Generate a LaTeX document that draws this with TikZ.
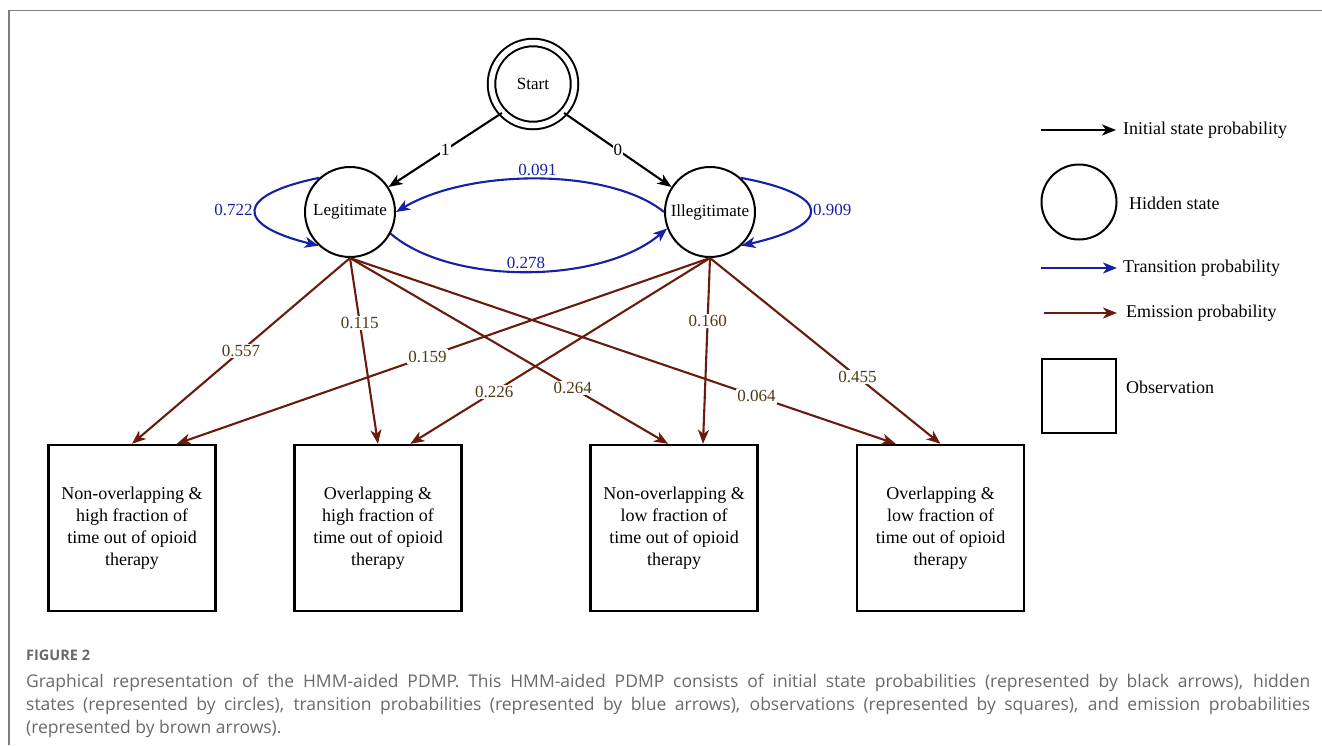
\documentclass[tikz,border=0pt]{standalone}
\usepackage{fontspec}
\setmainfont{Liberation Serif}
\newfontfamily\capfont{Open Sans}
\usetikzlibrary{arrows.meta}

\definecolor{transblue}{RGB}{22,32,165}
\definecolor{emitbrown}{RGB}{105,28,12}
\definecolor{emitlabel}{RGB}{80,58,22}
\definecolor{capgray}{RGB}{105,105,105}
\definecolor{framegray}{RGB}{125,125,125}

\begin{document}
\begin{tikzpicture}[x=1pt,y=-1pt]
\useasboundingbox (0,0) rectangle (1322,745);

\tikzstyle{state} = [circle, draw, line width=2pt, minimum size=90pt, inner sep=1pt, font=\fontsize{17}{20}\selectfont]
\tikzstyle{obsbox} = [rectangle, draw, line width=2.4pt, minimum width=167pt, minimum height=166pt, inner sep=0pt, align=center, font=\fontsize{18}{22}\selectfont]
\tikzstyle{initarrow} = [draw=black, line width=2.1pt, -{Stealth[length=14pt,width=11pt,inset=4pt]}]
\tikzstyle{transarrow} = [draw=transblue, line width=2.1pt, -{Stealth[length=14pt,width=11pt,inset=4pt]}]
\tikzstyle{emitarrow} = [draw=emitbrown, line width=2.1pt, -{Stealth[length=14pt,width=11pt,inset=4pt]}]
\tikzstyle{initlabel} = [fill=white, inner sep=1pt, font=\fontsize{17}{20}\selectfont]
\tikzstyle{translabel} = [text=transblue, inner sep=2pt, font=\fontsize{17}{20}\selectfont]
\tikzstyle{emitlbl} = [fill=white, text=emitlabel, inner sep=1.5pt, font=\fontsize{17}{20}\selectfont]
\tikzstyle{keytext} = [anchor=west, inner sep=0pt, font=\fontsize{18}{22}\selectfont]

% frame of the figure
\draw[framegray, line width=1.2pt] (9,745) -- (9,10.5) -- (1322,10.5);

% Start and hidden states
\node[state, double, double distance=5.5pt, minimum size=83pt] (start) at (533,84) {Start};
\node[state] (leg) at (350,212) {Legitimate};
\node[state] (ill) at (710,212) {Illegitimate};

% Observations
\node[obsbox] (o1) at (132,528) {Non-overlapping \&\\high fraction of\\time out of opioid\\therapy};
\node[obsbox] (o2) at (378,528) {Overlapping \&\\high fraction of\\time out of opioid\\therapy};
\node[obsbox] (o3) at (674,528) {Non-overlapping \&\\low fraction of\\time out of opioid\\therapy};
\node[obsbox] (o4) at (940.5,528) {Overlapping \&\\low fraction of\\time out of opioid\\therapy};

% initial state probabilities
\draw[initarrow] (start.223) -- (leg.33) node[initlabel, pos=0.5] {1};
\draw[initarrow] (start.317) -- (ill.147) node[initlabel, pos=0.5] {0};

% transition probabilities
\draw[transarrow] (leg.132) .. controls (235,195) and (234,225) .. (leg.227) node[translabel, pos=0.5, left] {0.722};
\draw[transarrow] (ill.48) .. controls (833,195) and (833,225) .. (ill.313) node[translabel, pos=0.5, right] {0.909};
\draw[transarrow] (ill.west) .. controls (610,168) and (470,168) .. (leg.east) node[translabel, pos=0.5, above] {0.091};
\draw[transarrow] (leg.-28) .. controls (450,285) and (600,285) .. (ill.201) node[translabel, pos=0.5, above] {0.278};

% emission probabilities
\foreach \from/\to/\p/\lbl in {leg/o1.north/0.5/0.557, leg/o2.north/0.35/0.115, leg/o3.94/0.7/0.264, leg/o4.118/0.745/0.064,
  ill/o1.62/0.53/0.159, ill/o2.69/0.72/0.226, ill/o3.71/0.34/0.160, ill/o4.north/0.64/0.455}
\draw[emitarrow] (\from.south) -- (\to) node[emitlbl, pos=\p] {\lbl};

% legend
\coordinate (k1a) at (1041,130);
\coordinate (k1b) at (1116,130);
\draw[initarrow] (k1a) -- (k1b);
\node[keytext] (k1t) at (1123,130) {Initial state probability};
\node[state, minimum size=75pt] (k2) at (1079,202) {};
\node[keytext] (k2t) at (1129,203) {Hidden state};
\coordinate (k3a) at (1041,268);
\coordinate (k3b) at (1117,268);
\draw[transarrow] (k3a) -- (k3b);
\node[keytext] (k3t) at (1123,268) {Transition probability};
\coordinate (k4a) at (1044,313);
\coordinate (k4b) at (1117,313);
\draw[emitarrow] (k4a) -- (k4b);
\node[keytext] (k4t) at (1126,313) {Emission probability};
\node[obsbox, minimum width=74pt, minimum height=74pt] (k5) at (1079,396) {};
\node[keytext] (k5t) at (1126,387) {Observation};

% caption
\node[anchor=west, inner sep=0pt, text=capgray, font=\capfont\bfseries\fontsize{14.5}{16}\selectfont] (capfig) at (26,655) {FIGURE 2};
\node[anchor=north west, inner sep=0pt, text width=1284pt, align=justify, text=capgray, font=\capfont\fontsize{17.5}{23}\selectfont] (capbody) at (26,674)
  {Graphical representation of the HMM-aided PDMP. This HMM-aided PDMP consists of initial state probabilities (represented by black arrows), hidden\linebreak
   states (represented by circles), transition probabilities (represented by blue arrows), observations (represented by squares), and emission probabilities\linebreak
   (represented by brown arrows).};

\end{tikzpicture}
\end{document}
